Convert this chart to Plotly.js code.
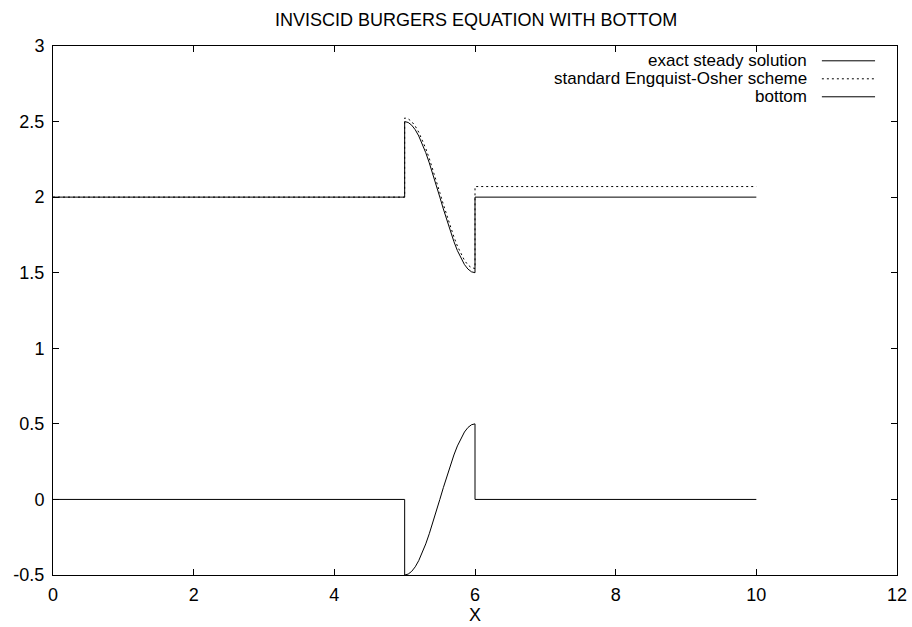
<!DOCTYPE html>
<html>
<head>
<meta charset="utf-8">
<script src="https://cdn.plot.ly/plotly-3.0.1.min.js"></script>
<style>html,body{margin:0;padding:0;background:#fff;}#chart{width:912px;height:627px;}</style>
</head>
<body>
<div id="chart"></div>
<script>
// ---- data ----
const titleText = "INVISCID BURGERS EQUATION WITH BOTTOM";
const xTitle = "X";
const seriesNames = ["exact steady solution", "standard Engquist-Osher scheme", "bottom"];

// x positions inside the bump region (5..6)
const bumpX = [5.00,5.05,5.10,5.15,5.20,5.25,5.30,5.35,5.40,5.45,5.50,5.55,5.60,5.65,5.70,5.75,5.80,5.85,5.90,5.95,6.00];

// exact steady solution
const exactX = [0, 5].concat(bumpX, [6, 10]);
const exactY = [2, 2,
  2.500,2.494,2.476,2.446,2.405,2.354,2.294,2.227,2.155,2.078,2.000,1.922,1.845,1.773,1.706,1.646,1.595,1.554,1.524,1.506,1.500,
  2, 2];

// standard Engquist-Osher scheme
const eoX = [0, 5].concat(bumpX, [6, 10]);
const eoY = [2, 2,
  2.524,2.518,2.500,2.470,2.430,2.380,2.322,2.256,2.184,2.108,2.030,1.952,1.876,1.804,1.737,1.676,1.624,1.582,1.551,1.533,1.528,
  2.07, 2.07];

// bottom
const bottomX = [0, 5].concat(bumpX, [6, 10]);
const bottomY = [0, 0,
  -0.500,-0.494,-0.476,-0.446,-0.405,-0.354,-0.294,-0.227,-0.155,-0.078,0.000,0.078,0.155,0.227,0.294,0.354,0.405,0.446,0.476,0.494,0.500,
  0, 0];

const xTicks = [0, 2, 4, 6, 8, 10, 12];
const yTicks = [-0.5, 0, 0.5, 1, 1.5, 2, 2.5, 3];

// ---- drawing ----
const FONT = "Liberation Sans, Arial, Helvetica, sans-serif";
const FS = 18;
const LFS = 17;
const dotted = "2px,3px";

const traces = [
  {x: exactX, y: exactY, mode: "lines", name: seriesNames[0], line: {color: "#000", width: 1}},
  {x: eoX, y: eoY, mode: "lines", name: seriesNames[1], line: {color: "#000", width: 1, dash: dotted}},
  {x: bottomX, y: bottomY, mode: "lines", name: seriesNames[2], line: {color: "#000", width: 1}}
];

// legend drawn gnuplot-style: text right-aligned, sample to the right
const legTextX = 0.8946;
const legY = [0.972, 0.938, 0.904];
const legDash = ["solid", dotted, "solid"];
const annotations = seriesNames.map((n, i) => ({
  xref: "paper", yref: "paper", x: legTextX, y: legY[i], xanchor: "right", yanchor: "middle",
  text: n, showarrow: false, borderpad: 0,
  font: {family: FONT, size: LFS, color: "#000"}
}));
const shapes = seriesNames.map((n, i) => ({
  type: "line", xref: "paper", yref: "paper", x0: 0.911, x1: 0.974, y0: legY[i], y1: legY[i],
  line: {color: "#000", width: 1, dash: legDash[i]}
}));

const axisCommon = {
  showline: true, linecolor: "#000", linewidth: 1, mirror: "allticks",
  ticks: "inside", ticklen: 6, tickcolor: "#000", tickwidth: 1,
  showgrid: false, zeroline: false,
  tickfont: {family: FONT, size: FS, color: "#000"}
};

const layout = {
  width: 912, height: 627,
  margin: {l: 53, r: 15, t: 46, b: 52},
  paper_bgcolor: "#fff", plot_bgcolor: "#fff",
  showlegend: false,
  font: {family: FONT, size: FS, color: "#000"},
  title: {text: titleText, x: 0.522, xanchor: "center", y: 0.969, yanchor: "middle",
          font: {family: FONT, size: FS, color: "#000"}},
  xaxis: Object.assign({}, axisCommon, {
    range: [0, 12], tickvals: xTicks, ticktext: xTicks.map(String), ticklabelstandoff: 3,
    title: {text: xTitle, font: {family: FONT, size: FS, color: "#000"}, standoff: 4}
  }),
  yaxis: Object.assign({}, axisCommon, {
    range: [-0.5, 3], tickvals: yTicks, ticktext: yTicks.map(String), ticklabelstandoff: 4
  }),
  annotations: annotations,
  shapes: shapes
};

Plotly.newPlot("chart", traces, layout, {displayModeBar: false, staticPlot: true});
</script>
</body>
</html>
